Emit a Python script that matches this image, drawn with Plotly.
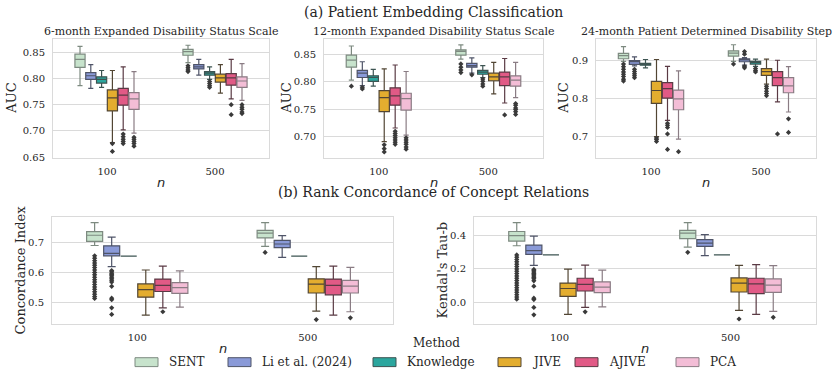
import plotly.graph_objects as go

W, H = 839, 379

METHODS = ["SENT", "Li et al. (2024)", "Knowledge", "JIVE", "AJIVE", "PCA"]
N_LABELS = ["100", "500"]
FILL = ["#c7e3cc", "#8a9ad8", "#2ba69e", "#e3ad2f", "#e15a86", "#f3bdd6"]
EDGE = ["#7d8a80", "#4f5468", "#3d5452", "#524634", "#5a3a44", "#8a7c84"]

# ---------- (a) 6-month EDSS AUC : per method [n=100, n=500] ----------
EDSS6_LO  = [[0.786, 0.830], [0.781, 0.806], [0.783, 0.798], [0.678, 0.772], [0.702, 0.761], [0.696, 0.758]]
EDSS6_Q1  = [[0.821, 0.844], [0.798, 0.818], [0.791, 0.806], [0.738, 0.793], [0.749, 0.787], [0.741, 0.783]]
EDSS6_MED = [[0.836, 0.851], [0.805, 0.822], [0.798, 0.810], [0.763, 0.801], [0.768, 0.801], [0.761, 0.795]]
EDSS6_Q3  = [[0.846, 0.855], [0.811, 0.826], [0.803, 0.813], [0.778, 0.808], [0.781, 0.809], [0.773, 0.803]]
EDSS6_HI  = [[0.861, 0.863], [0.826, 0.836], [0.815, 0.822], [0.815, 0.826], [0.822, 0.836], [0.813, 0.828]]
EDSS6_OUT = [
    [[], [0.824, 0.820, 0.816, 0.813]],
    [[], []],
    [[], [0.794, 0.790, 0.786, 0.783]],
    [[0.676, 0.661], []],
    [[0.694, 0.689, 0.684, 0.680, 0.676], [0.750, 0.731]],
    [[0.688, 0.684, 0.680, 0.676, 0.671], [0.750, 0.745, 0.741, 0.736, 0.733]],
]

# ---------- (a) 12-month EDSS AUC ----------
EDSS12_LO  = [[0.803, 0.842], [0.793, 0.816], [0.792, 0.808], [0.690, 0.778], [0.715, 0.761], [0.702, 0.771]]
EDSS12_Q1  = [[0.827, 0.849], [0.808, 0.827], [0.801, 0.814], [0.745, 0.802], [0.757, 0.793], [0.748, 0.792]]
EDSS12_MED = [[0.840, 0.856], [0.816, 0.830], [0.808, 0.818], [0.771, 0.809], [0.774, 0.809], [0.769, 0.803]]
EDSS12_Q3  = [[0.849, 0.859], [0.821, 0.834], [0.811, 0.821], [0.784, 0.816], [0.789, 0.818], [0.779, 0.811]]
EDSS12_HI  = [[0.866, 0.868], [0.837, 0.844], [0.823, 0.830], [0.824, 0.836], [0.831, 0.843], [0.819, 0.836]]
EDSS12_OUT = [
    [[0.792], [0.833, 0.827, 0.822, 0.817]],
    [[0.790, 0.787], [0.813]],
    [[], [0.805, 0.801, 0.796, 0.792]],
    [[0.684, 0.677, 0.671], []],
    [[0.709, 0.705, 0.701, 0.697, 0.693, 0.689, 0.685], [0.739]],
    [[0.697, 0.693, 0.689, 0.685, 0.680, 0.676], [0.760, 0.757, 0.752, 0.749, 0.745, 0.740]],
]

# ---------- (a) 24-month PDDS AUC ----------
PDDS24_LO  = [[0.898, 0.898], [0.886, 0.888], [0.881, 0.885], [0.699, 0.838], [0.742, 0.791], [0.692, 0.764]]
PDDS24_Q1  = [[0.905, 0.912], [0.890, 0.897], [0.888, 0.891], [0.787, 0.861], [0.801, 0.834], [0.770, 0.815]]
PDDS24_MED = [[0.913, 0.920], [0.897, 0.902], [0.891, 0.896], [0.821, 0.871], [0.826, 0.855], [0.799, 0.833]]
PDDS24_Q3  = [[0.919, 0.926], [0.900, 0.905], [0.893, 0.898], [0.845, 0.879], [0.842, 0.871], [0.822, 0.855]]
PDDS24_HI  = [[0.937, 0.942], [0.910, 0.908], [0.903, 0.904], [0.903, 0.904], [0.885, 0.901], [0.873, 0.884]]
PDDS24_OUT = [
    [[0.891, 0.884, 0.877, 0.870, 0.864, 0.858, 0.851, 0.846], [0.891]],
    [[0.877, 0.871, 0.865, 0.860, 0.855], [0.924, 0.917, 0.885, 0.881]],
    [[], [0.879, 0.874, 0.870]],
    [[0.695, 0.691, 0.686], [0.832, 0.826, 0.819, 0.813, 0.807]],
    [[0.734, 0.729, 0.723, 0.706, 0.665], [0.706]],
    [[0.659], [0.746, 0.710]],
]

# ---------- (b) Concordance Index ----------
CIDX_LO  = [[0.690, 0.687], [0.620, 0.651], [0.655, 0.655], [0.460, 0.473], [0.484, 0.460], [0.486, 0.471]]
CIDX_Q1  = [[0.704, 0.715], [0.656, 0.683], [0.655, 0.655], [0.519, 0.533], [0.538, 0.527], [0.532, 0.533]]
CIDX_MED = [[0.724, 0.731], [0.664, 0.695], [0.655, 0.655], [0.544, 0.562], [0.558, 0.558], [0.551, 0.556]]
CIDX_Q3  = [[0.736, 0.740], [0.689, 0.707], [0.655, 0.655], [0.563, 0.580], [0.579, 0.579], [0.567, 0.575]]
CIDX_HI  = [[0.766, 0.766], [0.718, 0.723], [0.655, 0.655], [0.609, 0.620], [0.622, 0.622], [0.606, 0.618]]
CIDX_OUT = [
    [[0.656, 0.648, 0.640, 0.632, 0.625, 0.617, 0.609, 0.601, 0.593, 0.585, 0.577, 0.569, 0.561,
      0.553, 0.545, 0.537, 0.529, 0.521, 0.515], [0.667]],
    [[0.607, 0.603, 0.598, 0.594, 0.590, 0.585, 0.580, 0.575, 0.569, 0.555, 0.516, 0.511, 0.484, 0.462], []],
    [[], []],
    [[], [0.445]],
    [[0.471], []],
    [[], [0.451]],
]

# ---------- (b) Kendall's Tau-b ----------
TAU_LO  = [[0.337, 0.329], [0.220, 0.278], [0.282, 0.282], [-0.073, -0.049], [-0.031, -0.073], [-0.028, -0.055]]
TAU_Q1  = [[0.365, 0.380], [0.286, 0.333], [0.282, 0.282], [0.035, 0.061], [0.067, 0.051], [0.057, 0.059]]
TAU_MED = [[0.398, 0.412], [0.308, 0.353], [0.282, 0.282], [0.082, 0.114], [0.106, 0.110], [0.090, 0.102]]
TAU_Q3  = [[0.422, 0.429], [0.341, 0.373], [0.282, 0.282], [0.114, 0.145], [0.143, 0.143], [0.122, 0.139]]
TAU_HI  = [[0.475, 0.475], [0.394, 0.404], [0.282, 0.282], [0.198, 0.220], [0.222, 0.224], [0.192, 0.218]]
TAU_OUT = [
    [[0.282, 0.269, 0.255, 0.241, 0.227, 0.213, 0.199, 0.185, 0.171, 0.157, 0.143, 0.129, 0.115,
      0.101, 0.087, 0.073, 0.059, 0.045, 0.031, 0.018], [0.298]],
    [[0.196, 0.188, 0.180, 0.172, 0.164, 0.156, 0.148, 0.140, 0.128, 0.096, 0.024, 0.016, -0.031, -0.075], []],
    [[], []],
    [[], [-0.100]],
    [[-0.057], []],
    [[], [-0.090]],
]

# ---------- layout (pixel boxes) ----------
FONT = "DejaVu Serif"
TXT = "#262626"
GRID = "#dadada"

PANELS = [
    dict(title="6-month Expanded Disability Status Scale", ylabel="AUC",
         stats=(EDSS6_LO, EDSS6_Q1, EDSS6_MED, EDSS6_Q3, EDSS6_HI, EDSS6_OUT),
         px=(53, 269), py=(40, 160), yr=(0.6487, 0.874),
         ticks=[0.65, 0.70, 0.75, 0.80, 0.85], fmt=".2f", ylab_x=12),
    dict(title="12-month Expanded Disability Status Scale", ylabel="AUC",
         stats=(EDSS12_LO, EDSS12_Q1, EDSS12_MED, EDSS12_Q3, EDSS12_HI, EDSS12_OUT),
         px=(324, 543), py=(40, 160), yr=(0.660, 0.878),
         ticks=[0.70, 0.75, 0.80, 0.85], fmt=".2f", ylab_x=287),
    dict(title="24-month Patient Determined Disability Step", ylabel="AUC",
         stats=(PDDS24_LO, PDDS24_Q1, PDDS24_MED, PDDS24_Q3, PDDS24_HI, PDDS24_OUT),
         px=(596, 816), py=(40, 160), yr=(0.6426, 0.956),
         ticks=[0.7, 0.8, 0.9], fmt=".1f", ylab_x=564),
    dict(title=None, ylabel="Concordance Index",
         stats=(CIDX_LO, CIDX_Q1, CIDX_MED, CIDX_Q3, CIDX_HI, CIDX_OUT),
         px=(52, 393), py=(220, 328), yr=(0.4315, 0.784),
         ticks=[0.5, 0.6, 0.7], fmt=".1f", ylab_x=20),
    dict(title=None, ylabel="Kendal's Tau-b",
         stats=(TAU_LO, TAU_Q1, TAU_MED, TAU_Q3, TAU_HI, TAU_OUT),
         px=(474, 816), py=(220, 328), yr=(-0.128, 0.508),
         ticks=[0.0, 0.2, 0.4], fmt=".1f", ylab_x=442),
]


def fx(p):
    return p / W


def fy(p):
    return 1 - p / H


fig = go.Figure()
annotations = []
shapes = []
layout_axes = {}

for k, P in enumerate(PANELS):
    idx = "" if k == 0 else str(k + 1)
    xname, yname = "x" + idx, "y" + idx
    lo, q1, med, q3, hi, outs = P["stats"]
    for m, name in enumerate(METHODS):
        samples = [outs[m][j] if outs[m][j] else [med[m][j]] for j in range(2)]
        fig.add_trace(go.Box(
            x=N_LABELS, y=samples,
            q1=q1[m], median=med[m], q3=q3[m],
            lowerfence=lo[m], upperfence=hi[m],
            name=name, boxpoints="outliers", jitter=0, pointpos=0,
            alignmentgroup="panel%d" % k, offsetgroup="m%d" % m,
            fillcolor=FILL[m], line=dict(color=EDGE[m], width=1.2),
            marker=dict(symbol="diamond", size=4, color="#3a3a3a",
                        line=dict(width=0)),
            whiskerwidth=0.5, showlegend=False, hoverinfo="skip",
            xaxis=xname, yaxis=yname,
        ))
    layout_axes["xaxis" + idx] = dict(
        domain=[fx(P["px"][0]), fx(P["px"][1])], anchor=yname,
        type="category", range=[-0.5, 1.5], showgrid=False, zeroline=False,
        showline=True, mirror=True, linecolor=GRID, linewidth=1,
        ticks="", ticklabelstandoff=4,
        tickfont=dict(family=FONT, size=10, color=TXT),
    )
    layout_axes["yaxis" + idx] = dict(
        domain=[fy(P["py"][1]), fy(P["py"][0])], anchor=xname,
        range=list(P["yr"]), tickvals=P["ticks"], tickformat=P["fmt"],
        showgrid=True, gridcolor=GRID, gridwidth=1, zeroline=False,
        showline=True, mirror=True, linecolor=GRID, linewidth=1,
        ticks="", ticklabelstandoff=5,
        tickfont=dict(family=FONT, size=10, color=TXT),
    )
    cx = (P["px"][0] + P["px"][1]) / 2
    cy = (P["py"][0] + P["py"][1]) / 2
    if P["title"]:
        annotations.append(dict(text=P["title"], x=fx(cx), y=fy(32), xref="paper", yref="paper",
                                xanchor="center", yanchor="middle", showarrow=False,
                                font=dict(family=FONT, size=11, color=TXT)))
    annotations.append(dict(text=P["ylabel"], x=fx(P["ylab_x"]), y=fy(cy), xref="paper", yref="paper",
                            xanchor="center", yanchor="middle", showarrow=False, textangle=-90,
                            font=dict(family=FONT, size=13, color=TXT)))
    n_y = 185 if k < 3 else 353
    annotations.append(dict(text="<i>n</i>", x=fx(cx), y=fy(n_y), xref="paper", yref="paper",
                            xanchor="center", yanchor="middle", showarrow=False,
                            font=dict(family="DejaVu Sans", size=13, color=TXT)))

annotations.append(dict(text="(a) Patient Embedding Classification", x=fx(433), y=fy(12.5),
                        xref="paper", yref="paper", xanchor="center", yanchor="middle",
                        showarrow=False, font=dict(family=FONT, size=14, color=TXT)))
annotations.append(dict(text="(b) Rank Concordance of Concept Relations", x=fx(433), y=fy(195),
                        xref="paper", yref="paper", xanchor="center", yanchor="middle",
                        showarrow=False, font=dict(family=FONT, size=14, color=TXT)))

# manual legend
LEG_X = [135, 228, 373, 498, 575, 676]
LEG_Y = 367
annotations.append(dict(text="Method", x=fx(436), y=fy(348), xref="paper", yref="paper",
                        xanchor="center", yanchor="middle", showarrow=False,
                        font=dict(family=FONT, size=12, color=TXT)))
for m, name in enumerate(METHODS):
    shapes.append(dict(type="rect", xref="paper", yref="paper",
                       x0=fx(LEG_X[m]), x1=fx(LEG_X[m] + 23),
                       y0=fy(LEG_Y + 4.5), y1=fy(LEG_Y - 4.5),
                       fillcolor=FILL[m], line=dict(color=EDGE[m], width=1)))
    annotations.append(dict(text=name, x=fx(LEG_X[m] + 32), y=fy(LEG_Y), xref="paper", yref="paper",
                            xanchor="left", yanchor="middle", showarrow=False,
                            font=dict(family=FONT, size=12, color=TXT)))

fig.update_layout(
    width=W, height=H, margin=dict(l=0, r=0, t=0, b=0),
    paper_bgcolor="white", plot_bgcolor="white",
    boxmode="group", boxgap=0.4, boxgroupgap=0.06,
    showlegend=False, annotations=annotations, shapes=shapes,
    font=dict(family=FONT, color=TXT),
    **layout_axes,
)

fig.write_html("out.html")
